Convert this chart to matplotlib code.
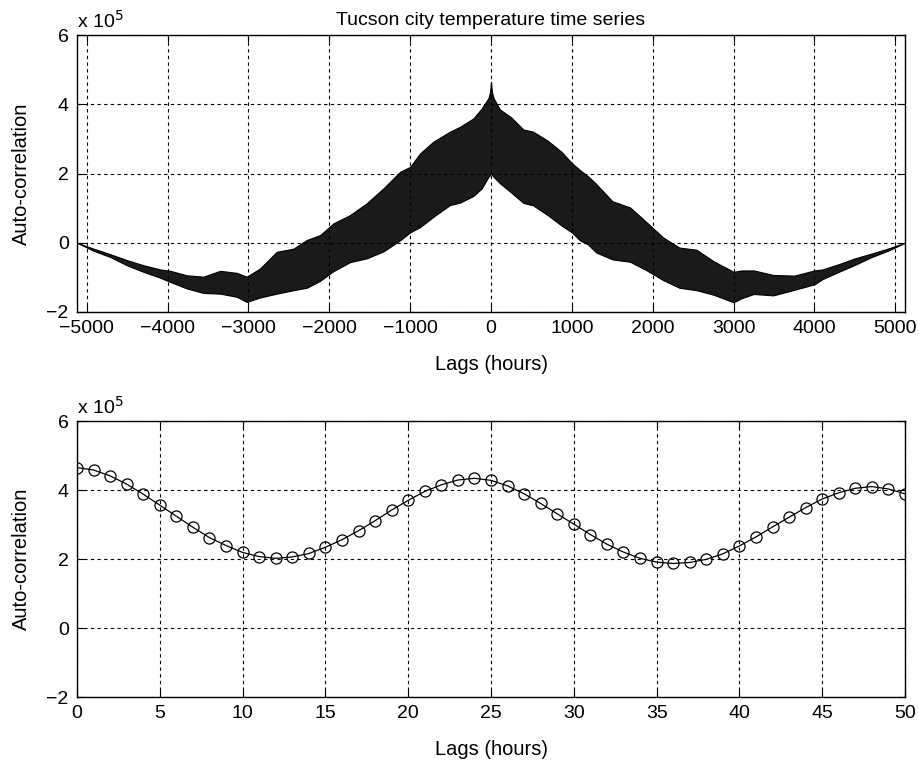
import matplotlib
matplotlib.use("Agg")
import matplotlib.pyplot as plt
from matplotlib.ticker import FuncFormatter

plt.rcParams['font.family'] = ['Liberation Sans', 'DejaVu Sans']
plt.rcParams['axes.unicode_minus'] = True

# ---- Top panel: envelope of the dense auto-correlation (units of 1e5) ----
env_lags = [-5120, -4916, -4710, -4504, -4298, -4091, -3968, -3762, -3556,
            -3350, -3144, -3021, -2855, -2649, -2443, -2278, -2114, -1949,
            -1743, -1537, -1331, -1125, -1001, -878, -713, -507, -383, -219,
            -115, -33, -12, 0, 12, 33, 110, 250, 400, 520, 700, 870, 1000,
            1100, 1200, 1300, 1500, 1720, 1920, 2130, 2330, 2540, 2750, 3000,
            3100, 3250, 3490, 3750, 4000, 4100, 4300, 4500, 4710, 4920, 5120]
env_upper = [0.0, -0.17, -0.33, -0.50, -0.65, -0.77, -0.81, -0.94, -0.98,
             -0.81, -0.87, -0.98, -0.74, -0.26, -0.17, 0.08, 0.22, 0.56,
             0.80, 1.14, 1.57, 2.05, 2.19, 2.58, 2.92, 3.21, 3.35, 3.59,
             3.88, 4.17, 4.35, 4.65, 4.35, 4.17, 3.85, 3.62, 3.27, 3.21, 2.95, 2.63, 2.30,
             2.10, 1.92, 1.70, 1.20, 1.02, 0.60, 0.15, -0.14, -0.20, -0.53, -0.84,
             -0.80, -0.80, -0.93, -0.95, -0.80, -0.77, -0.62, -0.45, -0.31, -0.16, 0.0]
env_lower = [0.0, -0.23, -0.41, -0.65, -0.84, -1.01, -1.13, -1.32, -1.45,
             -1.47, -1.56, -1.71, -1.58, -1.47, -1.37, -1.30, -1.10, -0.82,
             -0.56, -0.45, -0.25, 0.07, 0.30, 0.45, 0.75, 1.09, 1.16, 1.35,
             1.57, 1.90, 1.96, 2.01, 1.96, 1.90, 1.72, 1.45, 1.15, 1.08, 0.80, 0.50, 0.30,
             0.07, -0.05, -0.28, -0.48, -0.55, -0.79, -1.08, -1.30, -1.37, -1.50, -1.72,
             -1.60, -1.48, -1.52, -1.36, -1.20, -1.05, -0.84, -0.64, -0.41, -0.22, 0.0]

# ---- Bottom panel: first 50 lags (units of 1e5) ----
lags_short = list(range(0, 51))
acf_short = [4.65, 4.58, 4.41, 4.17, 3.88, 3.56, 3.24, 2.92, 2.62, 2.39,
             2.19, 2.07, 2.02, 2.06, 2.16, 2.34, 2.56, 2.82, 3.11, 3.42,
             3.70, 3.96, 4.15, 4.29, 4.34, 4.28, 4.12, 3.89, 3.61, 3.31,
             3.01, 2.71, 2.43, 2.20, 2.02, 1.91, 1.87, 1.90, 1.99, 2.15,
             2.38, 2.64, 2.93, 3.21, 3.49, 3.74, 3.92, 4.05, 4.10, 4.03, 3.89]

top_xticks = [-5000, -4000, -3000, -2000, -1000, 0, 1000, 2000, 3000, 4000, 5000]
bot_xticks = [0, 5, 10, 15, 20, 25, 30, 35, 40, 45, 50]
yticks = [-2, 0, 2, 4, 6]

scale = 1e5

fig = plt.figure(figsize=(9.2, 7.63), dpi=100)
ax1 = fig.add_axes([0.0837, 0.5911, 0.9, 0.363])
ax2 = fig.add_axes([0.0837, 0.0865, 0.9, 0.3617])

ax1.fill_between(env_lags, [v * scale for v in env_lower], [v * scale for v in env_upper],
                 facecolor='0.1', edgecolor='black', linewidth=0.8)
ax1.set_xlim(-5120, 5120)
ax1.set_xticks(top_xticks)
ax1.set_title('Tucson city temperature time series', fontsize=14, pad=7)

ax2.plot(lags_short, [v * scale for v in acf_short], color='black', linewidth=0.9,
         marker='o', markersize=8, markerfacecolor='none', markeredgecolor='black',
         markeredgewidth=0.9)
ax2.set_xlim(0, 50)
ax2.set_xticks(bot_xticks)

fmt = FuncFormatter(lambda v, p: ('%d' % round(v / scale)).replace('-', '\u2212'))
xfmt = FuncFormatter(lambda v, p: ('%d' % round(v)).replace('-', '\u2212'))
for ax in (ax1, ax2):
    ax.set_ylim(-2 * scale, 6 * scale)
    ax.set_yticks([t * scale for t in yticks])
    ax.yaxis.set_major_formatter(fmt)
    ax.xaxis.set_major_formatter(xfmt)
    ax.grid(True, color='black', linestyle=(0, (3, 3)), linewidth=0.8)
    ax.set_axisbelow(False)
    ax.tick_params(direction='in', top=True, right=True, labelsize=14, length=5,
                   width=0.8)
    ax.tick_params(axis='x', pad=5.5)
    ax.tick_params(axis='y', pad=6)
    for s in ax.spines.values():
        s.set_linewidth(1.0)
    ax.set_ylabel('Auto-correlation', fontsize=14.5, labelpad=11)
    ax.set_xlabel('Lags (hours)', fontsize=14.5, labelpad=13)
    ax.text(0.0, 1.012, r'x 10$^{5}$', transform=ax.transAxes, fontsize=14,
            ha='left', va='bottom')

fig.savefig('out.png', dpi=100)
